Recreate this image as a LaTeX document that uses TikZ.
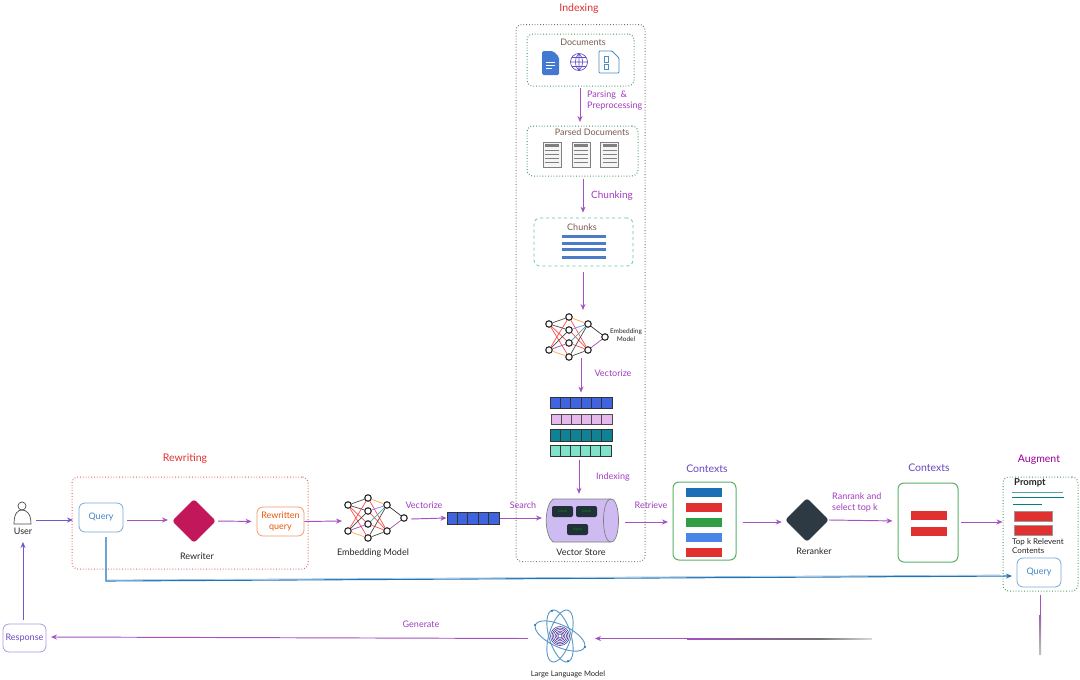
\documentclass[tikz,border=0pt]{standalone}
\usepackage{fontspec}
\setmainfont{Lato}
\usetikzlibrary{arrows.meta,shapes.geometric}
\definecolor{arrowp}{HTML}{A552C0}
\definecolor{labelp}{HTML}{A23CC0}
\definecolor{ctxp}{HTML}{6A48C0}
\definecolor{violetf}{HTML}{7656CC}
\definecolor{redt}{HTML}{E03131}
\definecolor{greenb}{HTML}{2F9E44}
\definecolor{greend}{HTML}{3F8F5F}
\definecolor{tealb}{HTML}{63C7A8}
\definecolor{bluet}{HTML}{3D85C6}
\definecolor{blueline}{HTML}{1F74B8}
\definecolor{brownt}{HTML}{7A5A50}
\definecolor{orangeb}{HTML}{E8590C}
\definecolor{barblue}{HTML}{4A7CC9}
\definecolor{cred}{HTML}{E03030}
\definecolor{cblue}{HTML}{1C6FB5}
\definecolor{cgreen}{HTML}{2F9E44}
\definecolor{clight}{HTML}{4A86E8}
\definecolor{storef}{HTML}{CDBBF2}
\definecolor{chipf}{HTML}{22303A}
\definecolor{vblue}{HTML}{4063E0}
\definecolor{vpink}{HTML}{E6B8EE}
\definecolor{vteal}{HTML}{0F8296}
\definecolor{vmint}{HTML}{7FE3CC}
\definecolor{rewr}{HTML}{C2185B}
\tikzset{
  flow/.style={draw=arrowp,line width=.95pt,-{Stealth[length=6pt,width=5pt]}},
  txt/.style={inner sep=0pt,font=\fontsize{9}{11}\selectfont,align=center,text=black!85},
  lab/.style={txt,text=labelp},
  head/.style={txt,font=\fontsize{10.5}{12}\selectfont},
  rbox/.style={draw,rounded corners=6pt,line width=.8pt,inner sep=0pt,align=center,font=\fontsize{9}{10.5}\selectfont},
  dbox/.style={rbox,dotted,line width=1pt},
  ctxbar/.style={draw=white,inner sep=0pt,minimum width=37pt,minimum height=10pt},
  nn/.style={circle,draw=black!85,fill=white,line width=1.1pt,minimum size=6.5pt,inner sep=0pt},
  redge/.style={line width=.7pt}
}
\newcommand{\nnet}[3]{%
  \begin{scope}[shift={(#2,#3)}]
    \node[nn] (#1a) at (348,505) {};
    \node[nn] (#1b) at (348,531) {};
    \node[nn] (#1c) at (368,498) {};
    \node[nn] (#1d) at (368,511) {};
    \node[nn] (#1e) at (368,524) {};
    \node[nn] (#1f) at (368,538) {};
    \node[nn] (#1g) at (387,505) {};
    \node[nn] (#1h) at (387,531) {};
    \node[nn] (#1i) at (404,518) {};
  \end{scope}
  \foreach \p/\q/\c in {a/c/black!70,a/d/black!70,a/e/red!70,a/f/red!70,b/c/red!70,b/d/black!70,b/e/violet!70,b/f/orange!70,c/g/orange!70,c/h/red!70,d/g/blue!50,d/h/red!70,e/g/teal!70,e/h/red!70,f/g/black!70,f/h/black!70,g/i/black!80,h/i/violet!70}
    \draw[redge,draw=\c] (#1\p) -- (#1\q);
}
\newcommand{\cellbar}[8]{% name,x1,y1,x2,y2,n,fill,frame
  \pgfmathsetmacro{\cbw}{#4-#2}\pgfmathsetmacro{\cbh}{#5-#3}
  \pgfmathsetmacro{\cbx}{(#2+#4)/2}\pgfmathsetmacro{\cby}{(#3+#5)/2}
  \pgfmathtruncatemacro{\cbn}{#6-1}
  \node[draw=#8,fill=#7,line width=1pt,inner sep=0pt,minimum width=\cbw pt,minimum height=\cbh pt] (#1) at (\cbx,\cby) {};
  \foreach \k in {1,...,\cbn}{
    \pgfmathsetmacro{\xx}{#2+\k*\cbw/#6}
    \draw[draw=#8,line width=.8pt] (\xx,#3) -- (\xx,#5);
  }
}
\newcommand{\pagedoc}[2]{% x1 y1
  \begin{scope}[shift={(#1,#2)}]
    \fill[black!4] (0,0) rectangle (18,25);
    \draw[black!50,line width=.8pt] (0,0) rectangle (18,25);
    \fill[black!50] (2,2) rectangle (16,4.5);
    \foreach \yy in {8,12,16,20}\draw[black!50,line width=.7pt] (2,\yy) -- (16,\yy);
  \end{scope}
}
\begin{document}
\begin{tikzpicture}[x=1pt,y=-1pt]
\useasboundingbox (0,0) rectangle (1080,680);
\fill[white] (0,0) rectangle (1080,680);

% Indexing column
\node[head,text=redt] (tIndexing) at (579,9) {Indexing};
\node[dbox,draw=black!55,minimum width=129pt,minimum height=537pt] (indexbox) at (580.5,293) {};
\node[dbox,draw=greend,minimum width=107pt,minimum height=52pt] (docsbox) at (580.5,60) {};
\node[txt,text=brownt] (tDocs) at (583,42) {Documents};
% icons
\fill[clight!90!black,rounded corners=1.5pt] (542,51) -- (553,51) -- (559,57) -- (559,75) -- (542,75) -- cycle;
\draw[white,line width=.8pt] (546,62) -- (555,62) (546,65) -- (555,65) (546,68) -- (552,68);
\node[circle,draw=clight!60!violet,line width=.7pt,minimum size=17pt,inner sep=0pt] (globe) at (579,62) {};
\draw[clight!60!violet,line width=.6pt] (579,53.5) -- (579,70.5) (570.5,62) -- (587.5,62) (572,57.5) -- (586,57.5) (572,66.5) -- (586,66.5)
  (579,53.5) .. controls (574,58) and (574,66) .. (579,70.5) (579,53.5) .. controls (584,58) and (584,66) .. (579,70.5);
\draw[blueline!80,line width=.9pt,rounded corners=1pt] (599,51) -- (612,51) -- (619,58) -- (619,73) -- (599,73) -- cycle;
\draw[blueline!80,line width=.8pt] (604,56) rectangle (608,62) (604,64) rectangle (608,69);

\node[dbox,draw=greend,minimum width=111pt,minimum height=50pt] (parsedbox) at (582.5,151) {};
\node[txt,text=brownt] (tParsed) at (592,132) {Parsed Documents};
\pagedoc{543}{142}\pagedoc{572}{142}\pagedoc{600.5}{142}

\node[rbox,dashed,draw=tealb,minimum width=99pt,minimum height=48pt] (chunksbox) at (583.5,242) {};
\node[txt,text=brownt] (tChunks) at (582,227) {Chunks};
\foreach \yy in {236,243,249,257}\draw[barblue,line width=3pt] (562,\yy) -- (606,\yy);

\nnet{u}{201}{-181}
\node[txt,font=\fontsize{6.5}{8}\selectfont] (tEmbU) at (626,335) {Embedding\\Model};

\cellbar{vecA}{550}{397}{612}{408}{6}{vblue}{black!80}
\cellbar{vecB}{551}{414}{612}{424}{6}{vpink}{black!70}
\cellbar{vecC}{550}{429}{612}{441}{6}{vteal}{black!80}
\cellbar{vecD}{550}{445}{611}{456}{6}{vmint}{black!80}

% Vector store cylinder
\node[inner sep=0pt,minimum width=72pt,minimum height=43pt] (store) at (582,520.5) {};
\draw[black!50,fill=storef,line width=.7pt] (553,499) -- (611,499)
  .. controls (621,499) and (621,542) .. (611,542) -- (553,542)
  .. controls (544,535) and (544,506) .. (553,499) -- cycle;
\draw[black!50,line width=.7pt] (611,499) .. controls (601,499) and (601,542) .. (611,542);
\foreach \n/\xx/\yy in {chipA/562.5/511.5,chipB/586.5/511.5,chipC/577.5/529.5}
  \node[fill=chipf,rounded corners=2pt,minimum width=21pt,minimum height=11pt,inner sep=0pt,text=green!60!black,font=\fontsize{3.5}{4}\selectfont] (\n) at (\xx,\yy) {chunk};
\node[txt] (tStore) at (581,552) {Vector Store};

\draw[flow] (580,88) -- (580,122);
\node[lab,align=left,anchor=north west] (tParsing) at (587,91) {Parsing \ \&\\Preprocessing};
\draw[flow,shorten <=2pt,shorten >=5pt] (parsedbox.south -| 583,0) -- (chunksbox.north -| 583,0);
\node[lab,font=\fontsize{10}{12}\selectfont] (tChunking) at (612,196) {Chunking};
\draw[flow,shorten <=6pt] (chunksbox.south -| 583,0) -- (583,310);
\draw[flow,shorten >=4pt] (581,358) -- (vecA.north -| 581,0);
\node[lab] (tVect) at (613,373) {Vectorize};
\draw[flow,shorten <=3pt,shorten >=5pt] (vecD.south -| 579,0) -- (store.north -| 579,0);
\node[lab] (tIdx) at (613,477) {Indexing};

% Bottom row
\node[head,text=redt] (tRewriting) at (185,459) {Rewriting};
\node[dbox,draw=redt!80,minimum width=236pt,minimum height=92pt] (rewritebox) at (190,523) {};

\node[circle,draw=black!70,line width=.7pt,minimum size=8pt,inner sep=0pt] (uhead) at (22,506) {};
\draw[black!70,line width=.7pt] (14,524) .. controls (14,513) and (18,510) .. (22,510) .. controls (26,510) and (31,513) .. (31,524) -- cycle;
\node[txt] (tUser) at (23,531) {User};

\node[rbox,draw=bluet!70,text=bluet,minimum width=44pt,minimum height=29pt] (query) at (101,517.5) {Query};
\node[diamond,aspect=1,fill=rewr,rounded corners=3pt,inner sep=0pt,minimum width=44pt,minimum height=44pt] (rewriter) at (194,521) {};
\node[txt] (tRewriter) at (197,556) {Rewriter};
\node[rbox,draw=orangeb!60,text=orangeb,minimum width=47pt,minimum height=29pt] (rquery) at (280.5,521.5) {Rewritten\\query};

\nnet{l}{0}{0}
\node[txt] (tEmbL) at (373,553) {Embedding Model};
\cellbar{vecL}{447}{512}{499}{524}{5}{vblue}{black!80}

\node[rbox,draw=greenb!80,line width=1pt,minimum width=63pt,minimum height=78pt] (ctxA) at (704.5,521) {};
\node[head,text=ctxp] (tCtxA) at (707,469) {Contexts};
\node[ctxbar,fill=cblue] (b1) at (703.5,492) {};
\node[ctxbar,fill=cred] (b2) at (703.5,507) {};
\node[ctxbar,fill=cgreen] (b3) at (703.5,522) {};
\node[ctxbar,fill=clight] (b4) at (703.5,537) {};
\node[ctxbar,fill=cred] (b5) at (703.5,552) {};

\node[diamond,aspect=1,fill=chipf!95,rounded corners=3pt,inner sep=0pt,minimum width=44pt,minimum height=44pt] (reranker) at (807,520) {};
\node[txt] (tReranker) at (814,551) {Reranker};
\node[lab,align=left,anchor=north west] (tRerank) at (832,492.5) {Ranrank and\\select top k};

\node[rbox,draw=greenb!80,line width=1pt,minimum width=60pt,minimum height=79pt] (ctxB) at (928,522.5) {};
\node[head,text=ctxp] (tCtxB) at (929,468) {Contexts};
\node[ctxbar,fill=cred] (b6) at (928.5,515) {};
\node[ctxbar,fill=cred] (b7) at (928.5,531.5) {};

\node[head,text=violet!80!magenta] (tAugment) at (1039,460) {Augment};
\node[dbox,draw=greend,minimum width=75pt,minimum height=114pt] (augbox) at (1040.5,534) {};
\node[txt,anchor=west,font=\fontsize{9.5}{11}\selectfont\bfseries] (tPrompt) at (1014,483) {Prompt};
\draw[teal!70,line width=.9pt] (1012,492) -- (1063,492);
\draw[teal,line width=.9pt] (1012,497) -- (1064,497);
\draw[teal,line width=.9pt] (1013,504) -- (1042,504);
\node[ctxbar,draw=black!40,fill=cred,minimum width=38pt] (b8) at (1033,516) {};
\node[ctxbar,draw=black!40,fill=cred,minimum width=38pt] (b9) at (1033,530) {};
\node[txt,align=left,anchor=north west,font=\fontsize{8}{9}\selectfont] (tTop) at (1012,538.5) {Top k Relevent\\Contents};
\node[rbox,draw=bluet!70,text=bluet,minimum width=44pt,minimum height=29pt] (aquery) at (1039,572.5) {Query};

\node[rbox,draw=violetf!60,text=ctxp,minimum width=43pt,minimum height=28pt] (response) at (24.5,638) {Response};

% LLM atom
\node[circle,inner sep=0pt,minimum size=56pt] (llm) at (560,636) {};
\foreach \r in {-25,73,107}
  \draw[blueline!75,line width=.9pt,rotate around={\r:(llm.center)}] (llm.center) ellipse (27 and 11);
\foreach \r in {2,3.5,5,6.5,8,9.5}
  \draw[violet!50!blueline,line width=.6pt] (llm.center) circle (\r);
\foreach \xx/\yy in {536,624/584,648/553,610/569,661}{}
\fill[blueline] (535,625) circle (1.2) (585,647) circle (1.2) (552,611) circle (1.2) (568,661) circle (1.2);
\node[txt,font=\fontsize{7.5}{9}\selectfont] (tLLM) at (568,674) {Large Language Model};

% Row connectors
\draw[flow,draw=violetf] (36,520) -- (73,520);
\draw[flow] (127,520) -- (168,520);
\draw[flow,shorten <=2pt,shorten >=5pt] (rewriter.east) -- (rquery.west);
\draw[flow] (rquery.east) -- (342,521);
\draw[flow] (411,519) -- (vecL.west);
\node[lab] (tVectL) at (424,505) {Vectorize};
\draw[flow] (vecL.east) -- (542,518);
\node[lab] (tSearch) at (523,505) {Search};
\draw[flow] (625,522) -- (668,522);
\node[lab] (tRetrieve) at (651,505) {Retrieve};
\draw[flow,shorten <=6pt,shorten >=3pt] (ctxA.east |- 0,522) -- (reranker.west |- 0,522);
\draw[flow,shorten >=5pt] (reranker.east) -- (ctxB.west |- 0,521);
\draw[flow] (961,522) -- (augbox.west |- 0,522);
\coordinate (qbend) at (106,581);
\draw[draw=blueline,line width=1.1pt,-{Stealth[length=6pt,width=5pt]}] (106,537) -- (qbend) -- (1012,576);
\draw[draw=blueline!45,line width=.7pt] (106,580) -- (1000,575);

% Bottom loop
\draw[draw=arrowp,line width=1pt] (1040,595) -- (1040,617);
\shade[top color=arrowp!60!gray,bottom color=black!25] (1039,615) rectangle (1041,654);
\coordinate (gMid) at (687,638.5);
\shade[left color=arrowp,right color=black!55] (687,638) rectangle (820,639);
\shade[left color=black!55,right color=black!15] (820,638) rectangle (872,639);
\draw[flow] (gMid) -- (595,638.5);
\node[lab] (tGen) at (421,624) {Generate};
\draw[flow] (528,638.5) -- (51,637);
\draw[flow,draw=violetf] (23,620) -- (23,542);
\end{tikzpicture}
\end{document}
